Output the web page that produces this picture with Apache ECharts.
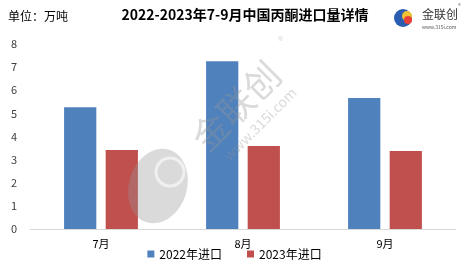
<!DOCTYPE html>
<html><head><meta charset="utf-8">
<script src="https://cdn.jsdelivr.net/npm/echarts@6/dist/echarts.min.js"></script>
<style>html,body{margin:0;padding:0;background:#fff}#c{width:469px;height:271px}</style>
</head><body><div id="c"></div>
<script>
const categories = ['7月', '8月', '9月'];
const imports2022 = [5.27, 7.25, 5.66];
const imports2023 = [3.42, 3.59, 3.37];
const seriesNames = ['2022年进口', '2023年进口'];
const yTicks = [0, 1, 2, 3, 4, 5, 6, 7, 8];

const chart = echarts.init(document.getElementById('c'), null, {renderer: 'canvas'});
const font = '"Microsoft YaHei","Noto Sans CJK SC",sans-serif';
const wm = 'rgba(150,150,150,0.35)';
chart.setOption({
  animation: false,
  title: {
    text: '2022-2023年7-9月中国丙酮进口量详情',
    left: 240, top: 3, textAlign: 'center',
    textStyle: {fontSize: 14, fontWeight: 'bold', color: '#000', fontFamily: font}
  },
  graphic: [
    {type: 'text', left: 8, top: 10, style: {text: '单位：万吨', fontSize: 12, fill: '#000', fontFamily: font}},
    {type: 'circle', shape: {cx: 403, cy: 18, r: 9}, style: {fill: '#2a5db0'}},
    {type: 'circle', shape: {cx: 407, cy: 16, r: 5}, style: {fill: '#f2c230'}},
    {type: 'circle', shape: {cx: 408, cy: 20, r: 4}, style: {fill: '#e8413a'}},
    {type: 'text', left: 422, top: 8, style: {text: '金联创', fontSize: 12, fill: '#333', fontFamily: font}},
    {type: 'text', left: 458, top: 3, style: {text: '®', fontSize: 6, fill: '#777', fontFamily: font}},
    {type: 'text', left: 422, top: 25, style: {text: 'www.315i.com', fontSize: 5, fill: '#555', fontFamily: font}},
    {type: 'ellipse', x: 158, y: 186, shape: {cx: 0, cy: 0, rx: 29, ry: 38}, rotation: -0.3, style: {fill: wm}, z: 100},
    {type: 'circle', shape: {cx: 170, cy: 172, r: 14}, style: {fill: 'none', stroke: 'rgba(255,255,255,0.6)', lineWidth: 3}, z: 101},
    {type: 'text', x: 236, y: 106, rotation: Math.PI / 4,
      style: {text: '金联创', fontSize: 36, fill: wm, fontFamily: font, align: 'center', verticalAlign: 'middle'}, z: 100},
    {type: 'text', x: 260, y: 124, rotation: Math.PI / 4,
      style: {text: 'www.315i.com', fontSize: 14, fill: wm, fontFamily: font, align: 'center', verticalAlign: 'middle'}, z: 100},
    {type: 'text', x: 282, y: 40, rotation: Math.PI / 4,
      style: {text: '®', fontSize: 11, fill: wm, fontFamily: font, align: 'center', verticalAlign: 'middle'}, z: 100}
  ],
  legend: {
    data: seriesNames, bottom: 6, left: 'center', itemWidth: 7, itemHeight: 7, itemGap: 25,
    icon: 'rect',
    textStyle: {fontSize: 12, color: '#000', fontFamily: font}
  },
  grid: {left: 30, right: 13, top: 44, bottom: 42},
  xAxis: {
    type: 'category', data: categories,
    axisLine: {lineStyle: {color: '#d9d9d9'}},
    axisTick: {show: false},
    axisLabel: {fontSize: 11, color: '#000', fontFamily: font, margin: 9}
  },
  yAxis: {
    type: 'value', min: yTicks[0], max: yTicks[yTicks.length - 1], interval: 1,
    splitLine: {show: false},
    axisLine: {show: false}, axisTick: {show: false},
    axisLabel: {fontSize: 11, color: '#404040', fontFamily: font, margin: 13}
  },
  series: [
    {name: seriesNames[0], type: 'bar', data: imports2022, itemStyle: {color: '#4F81BD'}, barGap: '29%', barCategoryGap: '48%'},
    {name: seriesNames[1], type: 'bar', data: imports2023, itemStyle: {color: '#C0504D'}}
  ]
});
</script></body></html>
